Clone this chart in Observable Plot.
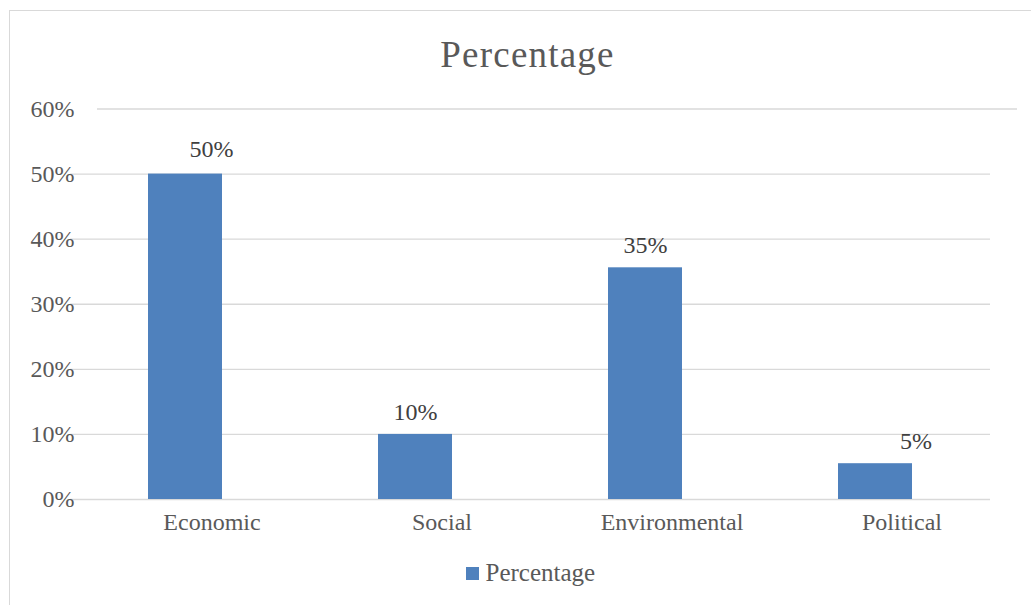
<!DOCTYPE html>
<html><head><meta charset="utf-8">
<script src="https://cdn.jsdelivr.net/npm/d3@7"></script>
<script src="https://cdn.jsdelivr.net/npm/@observablehq/plot@0.6"></script>
<style>
body{margin:0;background:#fff;}
#wrap{position:relative;width:1031px;height:605px;overflow:hidden;font-family:"Liberation Serif",serif;}
#border{position:absolute;left:9px;top:10px;width:1060px;height:640px;border:1.3px solid #d9d9d9;box-sizing:border-box;}
#title{position:absolute;left:0;width:1055px;top:35.7px;text-align:center;font-size:37px;line-height:37px;color:#595959;letter-spacing:1.2px;white-space:nowrap;}
#chart{position:absolute;left:0;top:0;}
#chart svg text{font-family:"Liberation Serif",serif;}
#legsw{position:absolute;left:466px;top:567px;width:13px;height:13px;background:#4f81bd;}
#legtx{position:absolute;left:485.5px;top:560px;font-size:25px;line-height:25px;color:#595959;white-space:nowrap;}
</style>
</head><body>
<div id="wrap">
  <div id="border"></div>
  <div id="chart"></div>
  <div id="title">Percentage</div>
  <div id="legsw"></div>
  <div id="legtx">Percentage</div>
</div>
<script>
const categories = ["Economic", "Social", "Environmental", "Political"];
const values = [50, 10, 35.6, 5.5];
const valueLabels = ["50%", "10%", "35%", "5%"];
const yTicks = [0, 10, 20, 30, 40, 50, 60];
const yTickLabels = ["0%", "10%", "20%", "30%", "40%", "50%", "60%"];

const data = categories.map((c, i) => ({category: c, value: values[i], label: valueLabels[i]}));
const FF = "Liberation Serif";

const chart = Plot.plot({
  width: 1031,
  height: 605,
  marginTop: 108.5,
  marginBottom: 106,
  marginLeft: 70,
  marginRight: 41,
  style: {fontFamily: FF, background: "transparent", overflow: "visible"},
  x: {domain: categories, paddingInner: 0.68, paddingOuter: 0.34, axis: null, label: null},
  y: {domain: [0, 60], axis: null, label: null},
  marks: [
    Plot.ruleY(yTicks.filter(t => t < 60), {stroke: "#d9d9d9", strokeWidth: 1.3}),
    Plot.ruleY(yTicks.filter(t => t === 60), {stroke: "#d9d9d9", strokeWidth: 1.3, dx: 27}),
    Plot.barY(data, {x: "category", y: "value", fill: "#4f81bd"}),
    Plot.axisY(yTicks, {anchor: "left", label: null, tickSize: 0, tickPadding: 0, dx: 4, fontSize: 24, fill: "#595959", fontFamily: FF,
      tickFormat: d => yTickLabels[yTicks.indexOf(d)]}),
    Plot.axisX(categories, {anchor: "bottom", label: null, tickSize: 0, tickPadding: 13, dx: 26.5, fontSize: 24, fill: "#595959", fontFamily: FF}),
    Plot.text(data, {filter: d => d.category === "Social" || d.category === "Environmental",
      x: "category", y: "value", text: "label", dy: -22, fontSize: 24, fill: "#404040", fontFamily: FF}),
    Plot.text(data, {filter: d => d.category === "Economic",
      x: "category", y: "value", text: "label", dx: 26, dy: -25, fontSize: 24, fill: "#404040", fontFamily: FF}),
    Plot.text(data, {filter: d => d.category === "Political",
      x: "category", y: "value", text: "label", dx: 40.5, dy: -22, fontSize: 24, fill: "#404040", fontFamily: FF})
  ]
});
document.getElementById("chart").appendChild(chart);
</script>
</body></html>
